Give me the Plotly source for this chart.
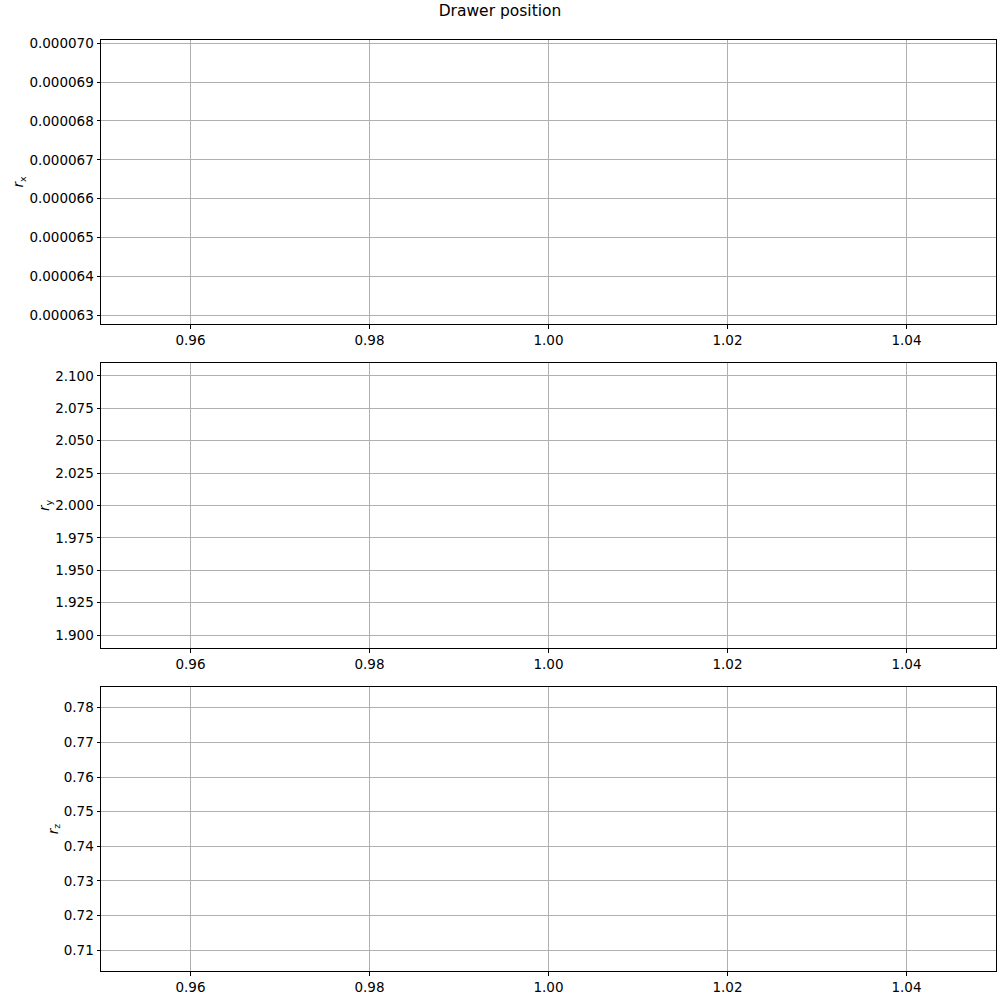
import plotly.graph_objects as go
from plotly.subplots import make_subplots

# Data: single sample of drawer position
t = [1.0]
r_x = [6.643e-5]
r_y = [2.0]
r_z = [0.745]

labels = ["<i>r</i><sub>x</sub>", "<i>r</i><sub>y</sub>", "<i>r</i><sub>z</sub>"]
series = [r_x, r_y, r_z]
ydticks = [1e-6, 0.025, 0.01]
yformats = [".6f", ".3f", ".2f"]

fig = make_subplots(rows=3, cols=1, shared_xaxes=False)

H = 1000
top, bot = 40, 29
area = H - top - bot
boxes = [(40, 324), (363, 648), (687, 971)]

font = dict(family="DejaVu Sans", size=13.5, color="black")

for i, (vals, lab, dt, fmt) in enumerate(zip(series, labels, ydticks, yformats), start=1):
    fig.add_trace(go.Scatter(x=t, y=vals, mode="lines", line=dict(color="#1f77b4", width=1.5),
                             showlegend=False), row=i, col=1)
    y0, y1 = boxes[i - 1]
    d0 = (H - bot - y1) / area
    d1 = (H - bot - y0) / area
    v = vals[0]
    fig.update_yaxes(row=i, col=1, domain=[d0, d1], range=[v * 0.945, v * 1.055],
                     dtick=dt, tick0=0, tickformat=fmt, showgrid=True, gridcolor="#b0b0b0",
                     gridwidth=0.8, showline=True, mirror=True, linecolor="black", linewidth=1,
                     ticks="outside", ticklen=3.5, tickcolor="black", zeroline=False,
                     title=dict(text=lab, font=font, standoff=2), tickfont=font)
    fig.update_xaxes(row=i, col=1, range=[0.95, 1.05], dtick=0.02, tick0=0.96, tickformat=".2f",
                     showgrid=True, gridcolor="#b0b0b0", gridwidth=0.8, showline=True, mirror=True,
                     linecolor="black", linewidth=1, ticks="outside", ticklen=3.5, tickcolor="black",
                     zeroline=False, tickfont=font)

fig.update_layout(
    width=1000, height=1000,
    margin=dict(l=101, r=4, t=top, b=bot),
    plot_bgcolor="white", paper_bgcolor="white",
    title=dict(text="Drawer position", x=0.5, xanchor="center", y=0.989, yanchor="middle",
               font=dict(family="DejaVu Sans", size=15.5, color="black")),
)

fig.write_html("out.html")
